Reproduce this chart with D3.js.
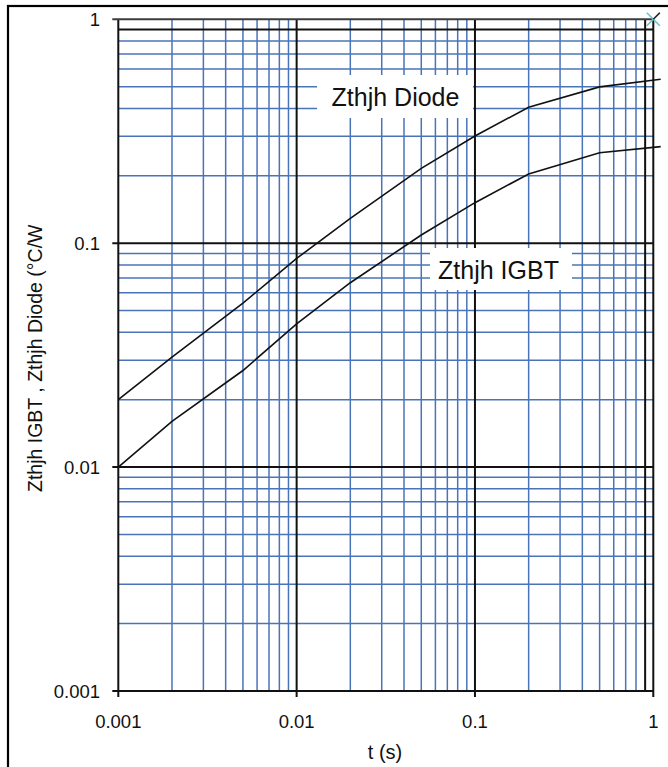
<!DOCTYPE html>
<html><head><meta charset="utf-8">
<script src="https://cdn.jsdelivr.net/npm/d3@7"></script>
<style>html,body{margin:0;padding:0;background:#fff;overflow:hidden}svg{display:block}text{font-family:"Liberation Sans",Arial,sans-serif;fill:#111}</style>
</head><body>
<script>
const times = [0.001, 0.002, 0.005, 0.01, 0.02, 0.05, 0.1, 0.2, 0.5, 1.1];
const diode = [0.02, 0.031, 0.054, 0.0855, 0.129, 0.216, 0.301, 0.405, 0.499, 0.54];
const igbt  = [0.01, 0.016, 0.027, 0.0436, 0.0666, 0.1088, 0.1517, 0.2038, 0.2537, 0.27];
const xTicks = [0.001, 0.01, 0.1, 1];
const yTicks = [0.001, 0.01, 0.1, 1];
const xTickLabels = ["0.001", "0.01", "0.1", "1"];
const yTickLabels = ["0.001", "0.01", "0.1", "1"];
const markerPoint = [1, 1];
const labels = [
  {text: "Zthjh Diode", t: 0.026, v: 0.42},
  {text: "Zthjh IGBT", t: 0.12, v: 0.074}
];

const W = 668, H = 767;
const L = 118.3, R = 653.3, T = 19.3, B = 691;
const svg = d3.select("body").append("svg").attr("width", W).attr("height", H);
const x = d3.scaleLog().domain([0.001, 1]).range([L, R]);
const y = d3.scaleLog().domain([0.001, 1]).range([B, T]);

// outer frame
svg.append("rect").attr("x", 8).attr("y", 6).attr("width", 720).attr("height", 820)
  .attr("fill", "none").attr("stroke", "#000").attr("stroke-width", 2.2);

// minor values
const minors = [];
[0.001, 0.01, 0.1].forEach(d => { for (let k = 2; k <= 9; k++) minors.push(+(d * k).toPrecision(3)); });
const blue = "#4a74b8";
const g = svg.append("g");
minors.forEach(v => {
  const dark = v === 0.9;
  g.append("line").attr("x1", x(v)).attr("x2", x(v)).attr("y1", T).attr("y2", B)
    .attr("stroke", dark ? "#111" : blue).attr("stroke-width", dark ? 2 : 1.5);
  g.append("line").attr("x1", L).attr("x2", R).attr("y1", y(v)).attr("y2", y(v))
    .attr("stroke", dark ? "#111" : blue).attr("stroke-width", dark ? 2 : 1.5);
});
// major grid
xTicks.forEach(v => {
  g.append("line").attr("x1", x(v)).attr("x2", x(v)).attr("y1", T).attr("y2", B + 6)
    .attr("stroke", "#111").attr("stroke-width", 2);
});
yTicks.forEach(v => {
  g.append("line").attr("x1", L - 6).attr("x2", R).attr("y1", y(v)).attr("y2", y(v))
    .attr("stroke", v === 1 ? "#3c3c3c" : "#111").attr("stroke-width", 2);
});

// tick labels
xTicks.forEach((v, i) => {
  svg.append("text").attr("x", x(v)).attr("y", 728).attr("text-anchor", "middle")
    .attr("font-size", 18.5).text(xTickLabels[i]);
});
yTicks.forEach((v, i) => {
  svg.append("text").attr("x", 100).attr("y", y(v) + 6.5).attr("text-anchor", "end")
    .attr("font-size", 18.5).text(yTickLabels[i]);
});

// axis titles
svg.append("text").attr("x", 385).attr("y", 759).attr("text-anchor", "middle")
  .attr("font-size", 20).text("t (s)");
svg.append("text").attr("transform", "translate(41.5,492) rotate(-90)")
  .attr("text-anchor", "start").attr("font-size", 19.5).text("Zthjh IGBT , Zthjh Diode (°C/W");

// label boxes
const boxes = [
  {x0: 317, x1: 473, y0: 75, y1: 118, tx: 395.5, ty: 106},
  {x0: 430, x1: 572, y0: 248, y1: 290, tx: 498.5, ty: 278.5}
];
labels.forEach((lb, i) => {
  const b = boxes[i];
  svg.append("rect").attr("x", b.x0).attr("y", b.y0).attr("width", b.x1 - b.x0).attr("height", b.y1 - b.y0)
    .attr("fill", "#fff");
  svg.append("text").attr("x", b.tx).attr("y", b.ty).attr("text-anchor", "middle")
    .attr("font-size", 25).text(lb.text);
});

// curves
const line = d3.line().x(d => x(d[0])).y(d => y(d[1]));
[diode, igbt].forEach(s => {
  svg.append("path").datum(times.map((t, i) => [t, s[i]])).attr("d", line)
    .attr("fill", "none").attr("stroke", "#111").attr("stroke-width", 1.6);
});

// marker X at (1,1)
const mx = x(markerPoint[0]), my = y(markerPoint[1]), s = 6.5;
svg.append("line").attr("x1", mx - s).attr("y1", my - s).attr("x2", mx + s).attr("y2", my + s)
  .attr("stroke", "#6cc3c9").attr("stroke-width", 1.6);
svg.append("line").attr("x1", mx - s).attr("y1", my + s).attr("x2", mx + s).attr("y2", my - s)
  .attr("stroke", "#6cc3c9").attr("stroke-width", 1.6);
svg.append("line").attr("x1", mx).attr("y1", my).attr("x2", mx + s).attr("y2", my - s)
  .attr("stroke", "#222").attr("stroke-width", 1.4);
</script>
</body></html>
